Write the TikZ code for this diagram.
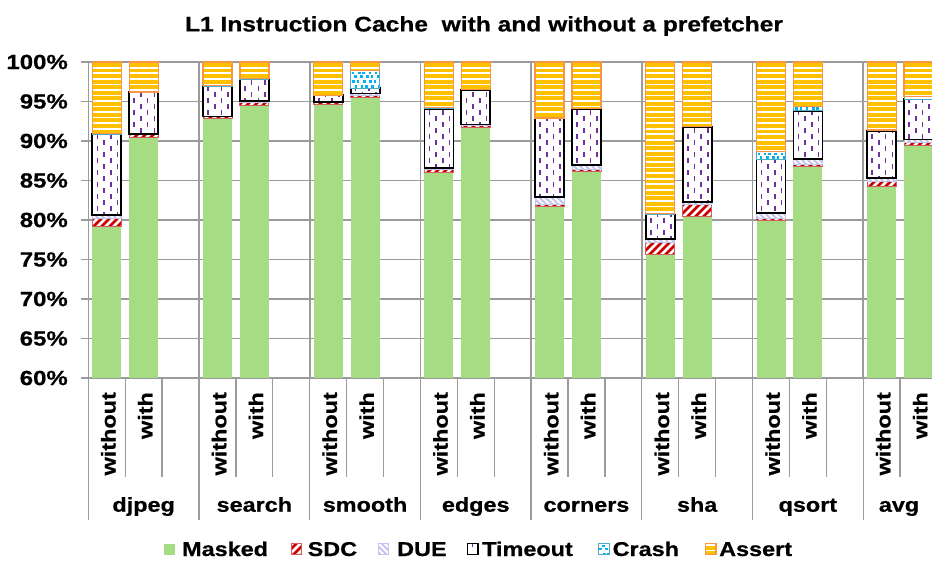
\documentclass[tikz,border=0pt]{standalone}
\usepackage{fontspec}
\setmainfont{Liberation Sans}[FakeStretch=1.17, BoldFeatures={FakeBold=0.6}]

\definecolor{maskedgreen}{RGB}{166,221,132}
\definecolor{sdcred}{RGB}{200,0,0}
\definecolor{sdcedge}{RGB}{214,92,92}
\definecolor{duelav}{RGB}{196,196,240}
\definecolor{toutpurple}{RGB}{112,48,160}
\definecolor{crashblue}{RGB}{0,176,240}
\definecolor{crashedge}{RGB}{75,172,198}
\definecolor{assertyel}{RGB}{255,192,0}
\definecolor{assertedge}{RGB}{247,150,70}
\definecolor{gridgray}{RGB}{155,155,155}

% Segment painters: #1 left x, #2 right x, #3 top y, #4 bottom y (pixels, y downward)
\newcommand\segMasked[4]{\fill[maskedgreen] (#1,#3) rectangle (#2,#4);}

\newcommand\segSDC[4]{%
  \begin{scope}
    \clip (#1,#3) rectangle (#2,#4);
    \fill[white] (#1,#3) rectangle (#2,#4);
    \pgfmathtruncatemacro\sgA{floor((#1+#3)/8)-1}
    \pgfmathtruncatemacro\sgB{ceil((#2+#4)/8)+1}
    \foreach \k in {\sgA,...,\sgB}{
      \draw[sdcred,line width=2.6pt] ({\k*8-#4-3},{#4+3}) -- ({\k*8-#3+3},{#3-3});
    }
  \end{scope}
  \draw[sdcedge,line width=1pt] (#1,#3) rectangle (#2,#4);
}

\newcommand\segDUE[4]{%
  \begin{scope}
    \clip (#1,#3) rectangle (#2,#4);
    \fill[white] (#1,#3) rectangle (#2,#4);
    \pgfmathtruncatemacro\sgA{floor((#1-#4)/6)-1}
    \pgfmathtruncatemacro\sgB{ceil((#2-#3)/6)+1}
    \foreach \k in {\sgA,...,\sgB}{
      \draw[duelav,line width=2pt] ({\k*6+#3-3},{#3-3}) -- ({\k*6+#4+3},{#4+3});
    }
  \end{scope}
  \draw[duelav,line width=1pt] (#1,#3) rectangle (#2,#4);
}

\newcommand\segTimeout[4]{%
  \begin{scope}
    \clip (#1,#3) rectangle (#2,#4);
    \fill[white] (#1,#3) rectangle (#2,#4);
    \pgfmathtruncatemacro\sgA{floor((#3-62)/12)-1}
    \pgfmathtruncatemacro\sgB{ceil((#4-62)/12)+1}
    \foreach \m in {0,1,2,3}{
      \foreach \n in {\sgA,...,\sgB}{
        \pgfmathsetmacro\dx{#1+5+\m*6.7}
        \pgfmathsetmacro\dy{62+\n*12+mod(\m,2)*6}
        \draw[toutpurple,line width=1.6pt] (\dx,\dy) -- (\dx,{\dy+5});
      }
    }
  \end{scope}
  \draw[black,line width=1.8pt] (#1,#3) rectangle (#2,#4);
}

\newcommand\segCrash[4]{%
  \begin{scope}
    \clip (#1,#3) rectangle (#2,#4);
    \fill[white] (#1,#3) rectangle (#2,#4);
    \pgfmathtruncatemacro\sgA{floor((#3-62)/4.5)-1}
    \pgfmathtruncatemacro\sgB{ceil((#4-62)/4.5)+1}
    \foreach \n in {\sgA,...,\sgB}{
      \foreach \m in {0,...,5}{
        \pgfmathsetmacro\cx{#1+0.5+\m*5.6+mod(\n,2)*2.8+mod(\m*7+\n*5,3)*0.6}
        \pgfmathsetmacro\cy{62+\n*4.5+mod(\m*3+\n,3)*0.5}
        \fill[crashblue] (\cx,\cy) rectangle ({\cx+2.6},{\cy+2.4});
      }
    }
  \end{scope}
  \draw[crashedge,line width=1pt] (#1,#3) rectangle (#2,#4);
}

\newcommand\segAssert[4]{%
  \begin{scope}
    \clip (#1,#3) rectangle (#2,#4);
    \fill[white] (#1,#3) rectangle (#2,#4);
    \pgfmathtruncatemacro\sgA{floor((#3-62)/5.55)-1}
    \pgfmathtruncatemacro\sgB{ceil((#4-62)/5.55)+1}
    \foreach \n in {\sgA,...,\sgB}{
      \fill[assertyel] (#1,{62+\n*5.55+1.0}) rectangle (#2,{62+\n*5.55+4.9});
    }
  \end{scope}
  \draw[assertedge,line width=1.3pt] (#1,#3) rectangle (#2,#4);
}

% One stacked bar: #1 slot, #2 Masked top (%), #3 SDC, #4 DUE, #5 Timeout, #6 Crash; Assert fills to 100%
\newcommand\stackbar[6]{%
  \pgfmathsetmacro\xl{88.3+#1*36.9+4}
  \pgfmathsetmacro\xr{\xl+29}
  \pgfmathsetmacro\ym{378-(#2-60)*7.9}
  \pgfmathsetmacro\ys{\ym-#3*7.9}
  \pgfmathsetmacro\yd{\ys-#4*7.9}
  \pgfmathsetmacro\yt{\yd-#5*7.9}
  \pgfmathsetmacro\yc{\yt-#6*7.9}
  \segMasked{\xl}{\xr}{\ym}{378}
  \ifdim #3pt>0pt \segSDC{\xl}{\xr}{\ys}{\ym}\fi
  \ifdim #4pt>0pt \segDUE{\xl}{\xr}{\yd}{\ys}\fi
  \ifdim #5pt>0pt \segTimeout{\xl}{\xr}{\yt}{\yd}\fi
  \ifdim #6pt>0pt \segCrash{\xl}{\xr}{\yc}{\yt}\fi
  \segAssert{\xl}{\xr}{62}{\yc}
}

\begin{document}
\begin{tikzpicture}[x=1pt,y=-1pt,
  lbl/.style={font=\fontsize{20}{24}\selectfont\bfseries, inner sep=0pt},
  ylbl/.style={font=\fontsize{20.5}{24}\selectfont\bfseries, inner sep=0pt, anchor=east},
  axisline/.style={gridgray, line width=1.6pt}]
\useasboundingbox (0,0) rectangle (932,561);
\fill[white] (0,0) rectangle (932,561);

% title
\node[font=\fontsize{21}{25}\selectfont\bfseries, inner sep=0pt, anchor=base] (title) at (484,31.4)
  {L1 Instruction Cache\ \ with and without a prefetcher};

% horizontal grid with outward ticks, and y labels
\foreach \p [count=\i] in {60,65,...,100}{
  \pgfmathsetmacro\gy{378-(\p-60)*7.9}
  \draw[axisline] (81,\gy) -- (932,\gy);
  \node[ylbl] (ylab\i) at (68,\gy) {\p\%};
}

% category axis: group separators (long) and slot dividers (short)
\foreach \g in {0,...,7}{
  \pgfmathsetmacro\gx{88.3+3*\g*36.9}
  \draw[axisline] (\gx,62) -- (\gx,378);
  \draw[gridgray,line width=1.3pt] (\gx,378) -- (\gx,520);
}
\foreach \s in {1,2,4,5,7,8,10,11,13,14,16,17,19,20,22}{
  \pgfmathsetmacro\sx{88.3+\s*36.9}
  \draw[gridgray,line width=1.3pt] (\sx,378) -- (\sx,477);
}
\draw[axisline] (81,62) -- (932,62);

% bars: slot, Masked, SDC, DUE, Timeout, Crash
\stackbar{0}{79.15}{1.05}{0.4}{10.25}{0.1}
\stackbar{1}{90.45}{0.4}{0.05}{5.3}{0}
\stackbar{3}{92.8}{0.3}{0}{3.8}{0.1}
\stackbar{4}{94.55}{0.35}{0.2}{2.7}{0.1}
\stackbar{6}{94.6}{0.3}{0}{0.9}{0}
\stackbar{7}{95.5}{0.2}{0.3}{0.7}{2.2}
\stackbar{9}{86.0}{0.4}{0.2}{7.5}{0.1}
\stackbar{10}{91.7}{0.3}{0.1}{4.4}{0}
\stackbar{12}{81.7}{0.3}{0.95}{9.95}{0}
\stackbar{13}{86.1}{0.3}{0.55}{7.15}{0}
\stackbar{15}{75.6}{1.6}{0.4}{3.1}{0.1}
\stackbar{16}{80.4}{1.5}{0.4}{9.5}{0}
\stackbar{18}{79.9}{0.3}{0.65}{6.85}{1.0}
\stackbar{19}{86.75}{0.3}{0.65}{6.1}{0.6}
\stackbar{21}{84.3}{0.55}{0.5}{5.95}{0.1}
\stackbar{22}{89.4}{0.4}{0.4}{5.1}{0.3}

% rotated series labels
\foreach \g in {0,...,7}{
  \pgfmathsetmacro\wa{88.3+(3*\g+0.5)*36.9+8.8}
  \pgfmathsetmacro\wb{88.3+(3*\g+1.5)*36.9+8.8}
  \node[lbl, rotate=90, anchor=base east] (wo\g) at (\wa,392) {without};
  \node[lbl, rotate=90, anchor=base east] (wi\g) at (\wb,392) {with};
}

% group labels
\foreach \name [count=\g from 0] in {djpeg,search,smooth,edges,corners,sha,qsort}{
  \pgfmathsetmacro\cxg{88.3+(3*\g+1.5)*36.9}
  \node[lbl, anchor=base] (grp\g) at (\cxg,511.7) {\name};
}
\node[lbl, anchor=base] (grp7) at (899,511.7) {avg};

% legend
\segMasked{164}{175}{543.5}{554.5}
\node[lbl, anchor=base west] (legMasked) at (182,556) {Masked};
\segSDC{291}{301.5}{543.5}{554.5}
\node[lbl, anchor=base west] (legSDC) at (307.5,556) {SDC};
\segDUE{378}{388.5}{543.5}{554.5}
\node[lbl, anchor=base west] (legDUE) at (397,556) {DUE};
\segTimeout{467.5}{478}{543.5}{554.5}
\node[lbl, anchor=base west] (legTimeout) at (482,556) {Timeout};
\segCrash{598.5}{609}{543.5}{554.5}
\node[lbl, anchor=base west] (legCrash) at (612.5,556) {Crash};
\segAssert{705.5}{716}{543.5}{554.5}
\node[lbl, anchor=base west] (legAssert) at (719,556) {Assert};
\end{tikzpicture}
\end{document}
